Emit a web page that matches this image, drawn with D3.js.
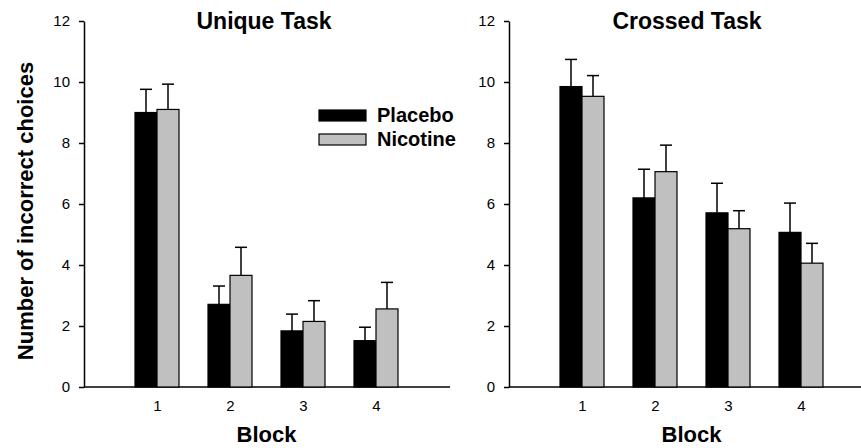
<!DOCTYPE html>
<html>
<head>
<meta charset="utf-8">
<script src="https://cdn.jsdelivr.net/npm/d3@7"></script>
<style>
  body { margin: 0; background: #fff; }
  text { font-family: Arial, "Liberation Sans", sans-serif; }
  .tick text { font-size: 15px; }
</style>
</head>
<body>
<div id="chart"></div>
<script>
const WIDTH = 861;
const HEIGHT = 448;

const blocks = [1, 2, 3, 4];
const series = ["Placebo", "Nicotine"];
const colors = ["#000000", "#c0c0c0"];
const yTicks = [0, 2, 4, 6, 8, 10, 12];

// Unique task
const uniqueMean = [[9.0, 2.71, 1.84, 1.52], [9.1, 3.66, 2.15, 2.56]];
const uniqueErr = [[0.76, 0.6, 0.55, 0.44], [0.83, 0.92, 0.68, 0.87]];
// Crossed task
const crossedMean = [[9.85, 6.2, 5.71, 5.07], [9.53, 7.06, 5.19, 4.06]];
const crossedErr = [[0.89, 0.94, 0.97, 0.96], [0.68, 0.87, 0.59, 0.65]];

const panels = [
  { title: "Unique Task", mean: uniqueMean, err: uniqueErr, x0: 84, x1: 449, axisEnd: 450, titleX: 264 },
  { title: "Crossed Task", mean: crossedMean, err: crossedErr, x0: 509, x1: 874, axisEnd: 861, titleX: 687 },
];

const TOP = 21;
const BOTTOM = 387;
const BAR_W = 22;

const svg = d3
  .select("#chart")
  .append("svg")
  .attr("width", WIDTH)
  .attr("height", HEIGHT);

const yScale = d3.scaleLinear().domain([0, 12]).range([BOTTOM, TOP]);
const inner = d3.scaleBand().domain(series).range([-BAR_W, BAR_W]);

panels.forEach((p) => {
  const xScale = d3.scaleLinear().domain([0, 5]).range([p.x0, p.x1]);
  const g = svg.append("g");

  // y axis
  const yAxis = g
    .append("g")
    .attr("transform", `translate(${p.x0}, 0)`)
    .call(d3.axisLeft(yScale).tickValues(yTicks).tickSize(5).tickPadding(9).tickSizeOuter(0))
    .attr("font-size", 15);
  yAxis.selectAll("text").attr("fill", "#000");
  yAxis.select(".domain").attr("stroke-width", 1.5);
  yAxis.selectAll(".tick line").attr("stroke-width", 1.5);

  // x axis (no tick marks)
  const xAxis = g
    .append("g")
    .attr("transform", `translate(0, ${BOTTOM})`)
    .call(d3.axisBottom(xScale).tickValues(blocks).tickSize(0).tickPadding(13).tickFormat(d3.format("d")))
    .attr("font-size", 15);
  xAxis.select(".domain").remove();
  xAxis.selectAll("text").attr("fill", "#000");
  g.append("line")
    .attr("x1", p.x0).attr("x2", p.axisEnd)
    .attr("y1", BOTTOM).attr("y2", BOTTOM)
    .attr("stroke", "#000").attr("stroke-width", 1.5);

  // bars + error bars
  series.forEach((s, si) => {
    const data = blocks.map((b, i) => ({ b, v: p.mean[si][i], e: p.err[si][i] }));
    const cx = (d) => xScale(d.b) + inner(s) + inner.bandwidth() / 2;
    const grp = g.append("g");
    grp.selectAll("line.err")
      .data(data)
      .join("line")
      .attr("class", "err")
      .attr("x1", cx).attr("x2", cx)
      .attr("y1", (d) => yScale(d.v))
      .attr("y2", (d) => yScale(d.v + d.e))
      .attr("stroke", "#000").attr("stroke-width", 1.5);
    grp.selectAll("line.cap")
      .data(data)
      .join("line")
      .attr("class", "cap")
      .attr("x1", (d) => cx(d) - 6)
      .attr("x2", (d) => cx(d) + 6)
      .attr("y1", (d) => yScale(d.v + d.e))
      .attr("y2", (d) => yScale(d.v + d.e))
      .attr("stroke", "#000").attr("stroke-width", 1.5);
    grp.selectAll("rect")
      .data(data)
      .join("rect")
      .attr("x", (d) => xScale(d.b) + inner(s))
      .attr("width", inner.bandwidth())
      .attr("y", (d) => yScale(d.v))
      .attr("height", (d) => BOTTOM - yScale(d.v))
      .attr("fill", colors[si])
      .attr("stroke", "#000").attr("stroke-width", 1.2);
  });

  // title + x label
  g.append("text")
    .attr("x", p.titleX)
    .attr("y", 29)
    .attr("text-anchor", "middle")
    .attr("font-size", 23).attr("font-weight", "bold")
    .text(p.title);
  g.append("text")
    .attr("x", xScale(2.5))
    .attr("y", 442)
    .attr("text-anchor", "middle")
    .attr("font-size", 22).attr("font-weight", "bold")
    .text("Block");
});

// y label
svg.append("text")
  .attr("transform", "translate(33, 211) rotate(-90)")
  .attr("text-anchor", "middle")
  .attr("font-size", 22).attr("font-weight", "bold")
  .text("Number of incorrect choices");

// legend
const legend = svg.append("g").attr("transform", "translate(319, 110)");
series.forEach((s, i) => {
  legend.append("rect")
    .attr("x", 0).attr("y", i * 24)
    .attr("width", 47).attr("height", 11)
    .attr("fill", colors[i]).attr("stroke", "#000").attr("stroke-width", 1.2);
  legend.append("text")
    .attr("x", 58).attr("y", i * 24 + 12)
    .attr("font-size", 20).attr("font-weight", "bold")
    .text(s);
});
</script>
</body>
</html>
